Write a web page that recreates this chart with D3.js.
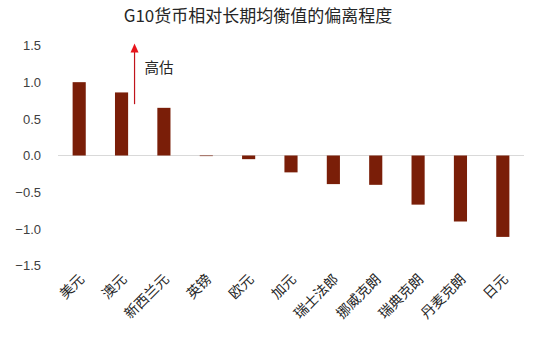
<!DOCTYPE html>
<html><head><meta charset="utf-8">
<script src="https://cdn.jsdelivr.net/npm/d3@7"></script>
<style>
body{margin:0;background:#fff;}
text{font-family:"Liberation Sans","Noto Sans CJK SC",Arial,sans-serif;}
</style></head>
<body><svg id="c" width="554" height="343"></svg>
<script>
const title = "G10货币相对长期均衡值的偏离程度";
const categories = ["美元","澳元","新西兰元","英镑","欧元","加元","瑞士法郎","挪威克朗","瑞典克朗","丹麦克朗","日元"];
const values = [1.0, 0.86, 0.65, -0.005, -0.05, -0.23, -0.39, -0.40, -0.67, -0.90, -1.11];
const yTicks = [1.5, 1.0, 0.5, 0.0, -0.5, -1.0, -1.5];
const annotation = "高估";

const svg = d3.select("#c");
const x = d3.scaleBand().domain(categories).range([58, 524]).paddingInner(0.69).paddingOuter(0.345);
const y = d3.scaleLinear().domain([-1.5, 1.5]).range([265.5, 45.5]);

svg.append("text").attr("x", 258).attr("y", 22).attr("text-anchor", "middle")
  .attr("font-size", 17).attr("fill", "#262626")
  .style("font-family", "'Noto Sans CJK SC','Liberation Sans',sans-serif")
  .text(title);

// y axis labels
const yAxis = d3.axisLeft(y).tickValues(yTicks).tickFormat(d3.format(".1f")).tickSize(0).tickPadding(0);
const ga = svg.append("g").attr("transform", "translate(41,0)").call(yAxis);
ga.select(".domain").remove();
ga.selectAll("text").attr("font-size", 13).attr("fill", "#404040")
  .style("font-family", "'Liberation Sans',Arial,sans-serif");

// zero line
svg.append("line").attr("x1", 58).attr("x2", 524).attr("y1", y(0)).attr("y2", y(0))
  .attr("stroke", "#d9d9d9").attr("stroke-width", 1);

// bars
svg.selectAll("rect.bar").data(values).enter().append("rect")
  .attr("x", (d, i) => x(categories[i]))
  .attr("width", x.bandwidth())
  .attr("y", d => y(Math.max(0, d)))
  .attr("height", d => Math.max(0.6, Math.abs(y(d) - y(0))))
  .attr("fill", "#7a1e08");

// x labels
svg.selectAll("text.xl").data(categories).enter().append("text")
  .attr("class", "xl")
  .attr("transform", d => `translate(${x(d) + x.bandwidth() / 2 + 6},${280}) rotate(-45)`)
  .attr("text-anchor", "end")
  .attr("font-size", 14).attr("fill", "#262626")
  .style("font-family", "'Noto Sans CJK SC',sans-serif")
  .text(d => d);

// annotation arrow
const ax = (x(categories[1]) + x(categories[1]) + x.bandwidth()) / 2 + 13;
svg.append("line").attr("x1", ax).attr("x2", ax).attr("y1", y(0.7)).attr("y2", y(1.5) + 6)
  .attr("stroke", "#c0141b").attr("stroke-width", 1.2);
svg.append("path").attr("d", `M${ax - 4},${y(1.5) + 7} L${ax},${y(1.5) - 2} L${ax + 4},${y(1.5) + 7} Z`)
  .attr("fill", "#e8141b");
svg.append("text").attr("x", ax + 10).attr("y", y(1.2) + 5)
  .attr("font-size", 14.5).attr("fill", "#262626")
  .style("font-family", "'Noto Sans CJK SC',sans-serif")
  .text(annotation);
</script></body></html>
